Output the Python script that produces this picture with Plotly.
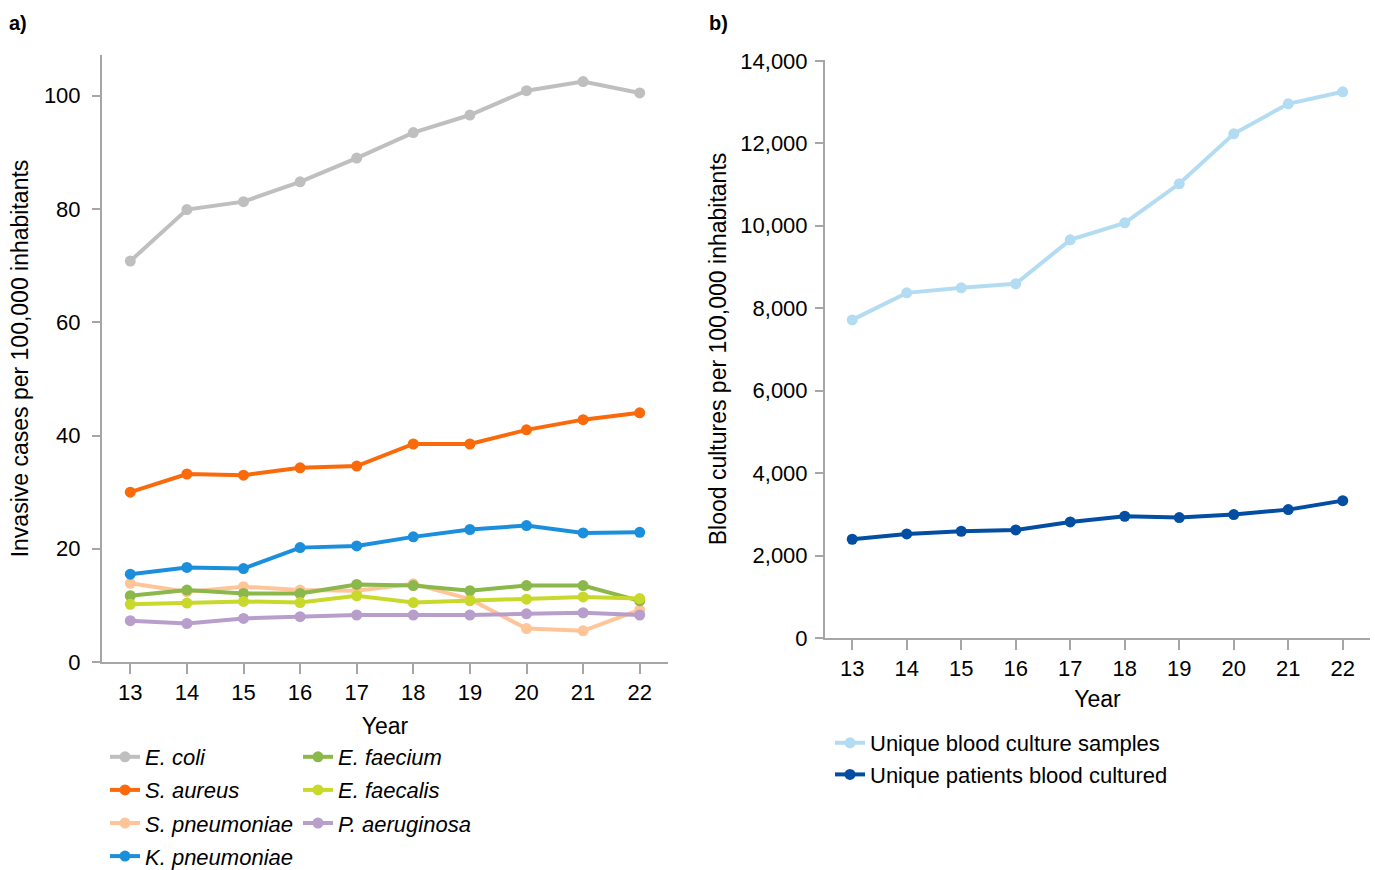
import plotly.graph_objects as go

years = [13, 14, 15, 16, 17, 18, 19, 20, 21, 22]

e_coli = [70.8, 79.9, 81.3, 84.8, 89.0, 93.5, 96.6, 100.9, 102.5, 100.5]
s_aureus = [30.0, 33.2, 33.0, 34.3, 34.6, 38.5, 38.5, 41.0, 42.8, 44.0]
s_pneumoniae = [13.9, 12.4, 13.3, 12.7, 12.6, 13.8, 11.1, 5.9, 5.5, 9.2]
k_pneumoniae = [15.5, 16.7, 16.5, 20.2, 20.5, 22.1, 23.4, 24.1, 22.8, 22.9]
e_faecium = [11.7, 12.7, 12.1, 12.1, 13.7, 13.5, 12.6, 13.5, 13.5, 10.8]
e_faecalis = [10.2, 10.4, 10.7, 10.5, 11.7, 10.5, 10.8, 11.1, 11.5, 11.2]
p_aeruginosa = [7.3, 6.8, 7.7, 8.0, 8.3, 8.3, 8.3, 8.5, 8.7, 8.3]

blood_samples = [7716, 8372, 8493, 8590, 9658, 10070, 11017, 12230, 12958, 13249]
patients_cultured = [2395, 2524, 2589, 2621, 2815, 2953, 2920, 2993, 3114, 3332]

FONT = "Liberation Sans, Arial, sans-serif"
AX = "#a6a6a6"

fig = go.Figure()

# (name, values, colour, legend column)
left_series = [
    ("<i>E. coli</i>", e_coli, "#bfbfbf", "legend"),
    ("<i>S. aureus</i>", s_aureus, "#fa6a0a", "legend"),
    ("<i>S. pneumoniae</i>", s_pneumoniae, "#ffc599", "legend"),
    ("<i>K. pneumoniae</i>", k_pneumoniae, "#1b8fdc", "legend"),
    ("<i>E. faecium</i>", e_faecium, "#8bb84a", "legend3"),
    ("<i>E. faecalis</i>", e_faecalis, "#c8d92c", "legend3"),
    ("<i>P. aeruginosa</i>", p_aeruginosa, "#b89fcb", "legend3"),
]
for i, (name, vals, col, lg) in enumerate(left_series):
    fig.add_trace(go.Scatter(
        x=years, y=vals, name=name, mode="lines+markers",
        line=dict(color=col, width=4), marker=dict(color=col, size=11),
        xaxis="x", yaxis="y", legend=lg, legendgroup=f"g{i}",
    ))

right_series = [
    ("Unique blood culture samples", blood_samples, "#b3dcf3"),
    ("Unique patients blood cultured", patients_cultured, "#034ea2"),
]
for i, (name, vals, col) in enumerate(right_series):
    fig.add_trace(go.Scatter(
        x=years, y=vals, name=name, mode="lines+markers",
        line=dict(color=col, width=4), marker=dict(color=col, size=11),
        xaxis="x2", yaxis="y2", legend="legend2", legendgroup=f"r{i}",
    ))

axis_common = dict(showgrid=False, zeroline=False, showline=True, linecolor=AX, linewidth=2,
                   ticks="outside", tickcolor=AX, tickwidth=2, automargin=False,
                   tickfont=dict(size=22, color="#000"), title_font=dict(size=23, color="#000"))

legend_common = dict(orientation="v", xanchor="left", yanchor="top", font=dict(size=22, color="#000"),
                     itemwidth=30, bgcolor="rgba(0,0,0,0)")

fig.update_layout(
    width=1375, height=870,
    margin=dict(l=0, r=0, t=0, b=0, autoexpand=False),
    paper_bgcolor="white", plot_bgcolor="white",
    font=dict(family=FONT, color="#000"),
    xaxis=dict(domain=[102/1375, 668/1375], range=[12.5, 22.5], tickvals=years, ticklen=10,
               title=dict(text="Year", standoff=13), anchor="y", **axis_common),
    yaxis=dict(domain=[1-662/870, 1-55/870], range=[0, 107.2], tickvals=[0, 20, 40, 60, 80, 100],
               ticklen=8, ticklabelstandoff=7,
               title=dict(text="Invasive cases per 100,000 inhabitants", standoff=9), anchor="x", **axis_common),
    xaxis2=dict(domain=[825/1375, 1370/1375], range=[12.5, 22.5], tickvals=years, ticklen=10,
                title=dict(text="Year", standoff=10), anchor="y2", **axis_common),
    yaxis2=dict(domain=[1-638/870, 1-60/870], range=[0, 14020], tickvals=[0, 2000, 4000, 6000, 8000, 10000, 12000, 14000],
                tickformat=",", ticklen=8, ticklabelstandoff=3,
                title=dict(text="Blood cultures per 100,000 inhabitants", standoff=7), anchor="x2", **axis_common),
    legend=dict(x=105/1375, y=1-736/870, tracegroupgap=1.5, **legend_common),
    legend3=dict(x=298/1375, y=1-736/870, tracegroupgap=1.5, **legend_common),
    legend2=dict(x=830/1375, y=1-722/870, tracegroupgap=0, **legend_common),
    annotations=[
        dict(text="<b>a)</b>", x=7/1375, y=1-23/870, xref="paper", yref="paper", showarrow=False,
             xanchor="left", yanchor="middle", font=dict(size=20, color="#000")),
        dict(text="<b>b)</b>", x=707/1375, y=1-23/870, xref="paper", yref="paper", showarrow=False,
             xanchor="left", yanchor="middle", font=dict(size=20, color="#000")),
    ],
)

fig.write_html("out.html")
